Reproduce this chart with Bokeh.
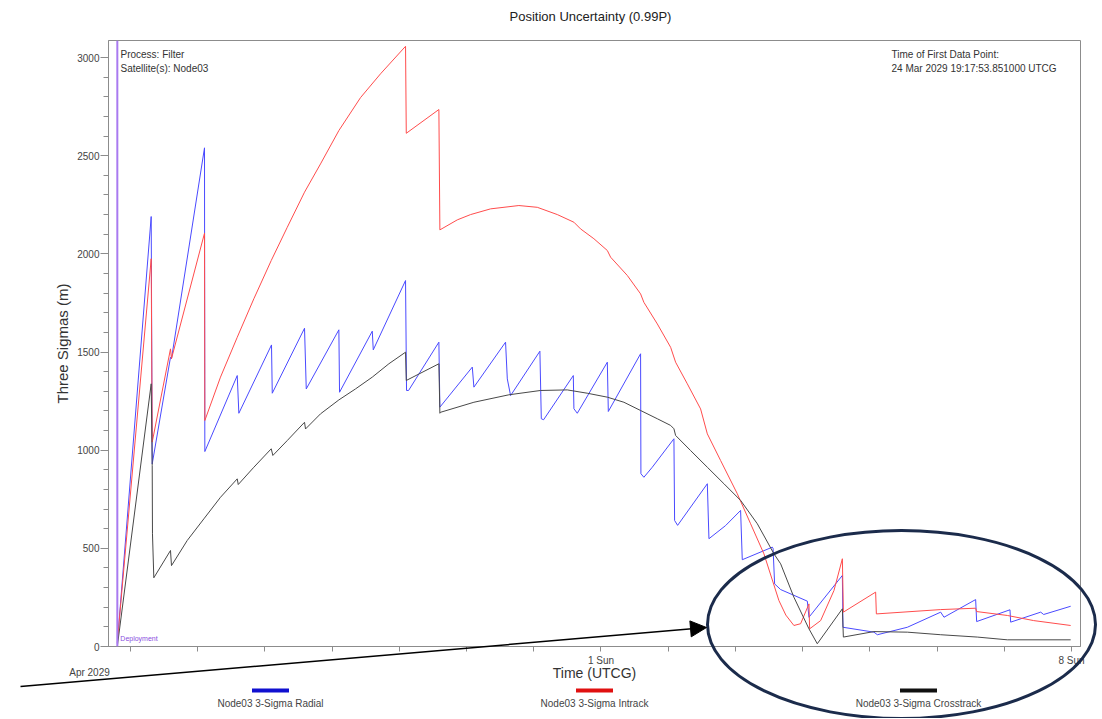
import numpy as np
from bokeh.plotting import figure
from bokeh.models import (Range1d, FixedTicker, SingleIntervalTicker, Label, Span,
                          Arrow, NormalHead, GridBox, Column)
from bokeh.core.properties import value
from bokeh.embed import file_html
from bokeh.resources import INLINE

FONT = "Liberation Sans"

# ---------------- data (time in days since 25 Mar 2029 00:00 UTCG) ----------------
radial_t = [-0.196, 0.308, 0.323, 0.595, 0.610, 1.101, 1.106, 1.588, 1.612, 2.098, 2.109,
            2.589, 2.615, 3.100, 3.110, 3.597, 3.612, 4.092, 4.107, 4.137, 4.588, 4.603,
            5.085, 5.109, 5.580, 5.606, 5.655, 6.091, 6.112, 6.146, 6.588, 6.597, 6.647,
            7.094, 7.109, 7.589, 7.594, 7.638, 7.763, 8.085, 8.095, 8.140, 8.582, 8.606,
            8.854, 9.077, 9.102, 9.549, 9.560, 9.583, 9.673, 10.070, 10.094, 10.591, 10.600,
            11.061, 11.112, 11.558, 12.054, 12.103, 12.574, 12.589, 13.085, 13.095, 13.542,
            13.586, 13.988]
radial_v = [15, 2190, 930, 1473, 1466, 2540, 993, 1380, 1188, 1536, 1290,
            1621, 1312, 1613, 1295, 1606, 1511, 1864, 1304, 1304, 1550, 1219,
            1423, 1321, 1550, 1363, 1278, 1504, 1160, 1155, 1380, 1211, 1188,
            1448, 1197, 1491, 880, 862, 913, 1058, 642, 617, 829, 549,
            616, 693, 442, 506, 500, 319, 290, 231, 149, 362, 98,
            73, 60, 98, 175, 149, 239, 127, 187, 124, 175,
            163, 205]

intrack_t = [-0.196, 0.308, 0.323, 0.595, 0.610, 1.101, 1.106, 1.339, 1.588, 1.835, 2.094,
             2.332, 2.589, 2.827, 3.100, 3.423, 3.720, 4.092, 4.103, 4.588, 4.603, 4.862,
             5.060, 5.357, 5.778, 6.052, 6.350, 6.597, 6.696, 6.894, 7.094, 7.143, 7.391,
             7.589, 7.638, 7.838, 8.036, 8.110, 8.284, 8.482, 8.582, 8.780, 9.028, 9.226,
             9.424, 9.647, 9.750, 9.870, 9.970, 10.094, 10.104, 10.268, 10.466, 10.591,
             10.606, 11.086, 11.097, 12.054, 12.574, 12.589, 13.046, 13.437, 13.988]
intrack_v = [20, 1975, 1041, 1516, 1466, 2105, 1151, 1372, 1575, 1771, 1966,
             2135, 2314, 2458, 2628, 2796, 2917, 3057, 2614, 2735, 2122, 2173,
             2200, 2229, 2246, 2237, 2200, 2161, 2127, 2077, 2017, 1983, 1890,
             1796, 1753, 1643, 1524, 1448, 1338, 1210, 1083, 947, 778, 625,
             472, 234, 160, 107, 116, 217, 90, 132, 285, 447,
             175, 277, 166, 188, 195, 178, 158, 132, 107]

cross_t = [-0.196, 0.308, 0.323, 0.327, 0.347, 0.595, 0.610, 0.844, 1.091, 1.339, 1.588,
           1.603, 1.835, 2.094, 2.118, 2.332, 2.589, 2.604, 2.827, 3.100, 3.348, 3.597,
           3.844, 4.092, 4.103, 4.588, 4.603, 4.613, 5.109, 5.629, 6.101, 6.498, 6.796,
           7.094, 7.341, 7.589, 7.838, 8.036, 8.085, 8.110, 8.333, 8.582, 8.829, 9.077,
           9.326, 9.573, 9.673, 9.870, 10.094, 10.218, 10.591, 10.606, 11.061, 11.558,
           12.054, 12.599, 13.046, 13.988]
cross_v = [0, 1338, 922, 574, 350, 489, 412, 540, 650, 760, 854,
           825, 913, 1007, 973, 1049, 1142, 1108, 1185, 1256, 1312, 1372,
           1440, 1499, 1355, 1440, 1188, 1193, 1244, 1282, 1304, 1307, 1290,
           1270, 1244, 1202, 1160, 1126, 1109, 1075, 998, 913, 829, 744,
           625, 472, 421, 251, 90, 14, 192, 48, 76, 73,
           60, 48, 34, 34]

deployment_t = -0.196
tick_days = list(range(15))
tick_names = {7: "1 Sun", 14: "8 Sun"}
series_names = ["Node03 3-Sigma Radial", "Node03 3-Sigma Intrack", "Node03 3-Sigma Crosstrack"]
line_colors = ["#4a4aff", "#ff4c4c", "#484848"]
swatch_colors = ["#1010d0", "#e01010", "#101010"]

# ---------------- layout (page pixels) ----------------
W, H = 1100, 718
FL, FR, FT, FB = 108, 1080, 40, 646
X0, X1 = -0.3273, 14.134
Y0, Y1 = 0.0, 3086.6

p = figure(width=W, height=H, x_range=Range1d(X0, X1), y_range=Range1d(Y0, Y1),
           output_backend="svg", toolbar_location=None,
           min_border_left=FL, min_border_right=W - FR,
           min_border_top=FT, min_border_bottom=H - FB)
p.outline_line_color = "#8c8c8c"
p.outline_line_width = 1
p.grid.visible = False

p.line(radial_t, radial_v, line_color=line_colors[0], line_width=1)
p.line(intrack_t, intrack_v, line_color=line_colors[1], line_width=1)
p.line(cross_t, cross_v, line_color=line_colors[2], line_width=1)

xa = p.xaxis[0]
xa.ticker = FixedTicker(ticks=tick_days, minor_ticks=[])
ov = {d: "" for d in tick_days}
ov.update(tick_names)
xa.major_label_overrides = ov
xa.axis_label = "Time (UTCG)"
xa.axis_label_text_font = FONT
xa.axis_label_text_font_size = "14px"
xa.axis_label_text_font_style = "normal"
xa.axis_label_text_color = "#333333"
xa.axis_label_standoff = -4
xa.major_label_text_font = FONT
xa.major_label_text_font_size = "10px"
xa.major_label_text_color = "#444444"
xa.major_label_standoff = 3
xa.major_tick_out = 5
xa.major_tick_in = 0
xa.axis_line_color = "#8c8c8c"
xa.major_tick_line_color = "#8c8c8c"

ya = p.yaxis[0]
ya.ticker = SingleIntervalTicker(interval=500, num_minor_ticks=5)
ya.axis_label = "Three Sigmas (m)"
ya.axis_label_text_font = FONT
ya.axis_label_text_font_size = "15px"
ya.axis_label_text_font_style = "normal"
ya.axis_label_text_color = "#333333"
ya.axis_label_standoff = 3
ya.major_label_text_font = FONT
ya.major_label_text_font_size = "10px"
ya.major_label_text_color = "#444444"
ya.major_label_standoff = 1
ya.major_tick_out = 8
ya.major_tick_in = 0
ya.minor_tick_out = 5
ya.minor_tick_in = 0
ya.axis_line_color = "#8c8c8c"
ya.major_tick_line_color = "#8c8c8c"
ya.minor_tick_line_color = "#8c8c8c"

# deployment marker
p.add_layout(Span(location=deployment_t, dimension="height", line_color="#a97af0", line_width=2))
p.add_layout(Label(x=deployment_t, y=40, x_offset=3, text="Deployment", text_font=FONT,
                   text_font_size="7px", text_color="#8a4fe0", text_baseline="middle"))

# info texts inside the frame
for txt, xo, yo in [("Process: Filter", 12, 14), ("Satellite(s): Node03", 12, 27.5)]:
    p.add_layout(Label(x=X0, y=Y1, x_offset=xo, y_offset=-yo, text=txt, text_font=FONT,
                       text_font_size="10px", text_color="#333333", text_baseline="middle"))
for txt, yo in [("Time of First Data Point:", 14), ("24 Mar 2029 19:17:53.851000 UTCG", 27.5)]:
    p.add_layout(Label(x=X0, y=Y1, x_offset=891 - FL, y_offset=-yo, text=txt, text_font=FONT,
                       text_font_size="10px", text_color="#333333", text_baseline="middle"))

# ---------------- overlay in page pixels (title, legend, callout) ----------------
o = figure(width=W, height=H, x_range=Range1d(0, W), y_range=Range1d(H, 0),
           output_backend="svg", toolbar_location=None, min_border=0,
           x_axis_type=None, y_axis_type=None)
o.outline_line_color = None
o.background_fill_alpha = 0
o.border_fill_alpha = 0
o.grid.visible = False

o.text(x=[590], y=[16], text=["Position Uncertainty (0.99P)"], text_font=value(FONT),
       text_font_size="13px", text_align="center", text_baseline="middle", text_color="#222222")
o.text(x=[89], y=[672], text=["Apr 2029"], text_font=value(FONT), text_font_size="10px",
       text_align="center", text_baseline="middle", text_color="#444444")

leg_x = [270, 594, 918]
o.segment(x0=[c - 18.5 for c in leg_x], y0=[690] * 3, x1=[c + 18.5 for c in leg_x], y1=[690] * 3,
          line_color=swatch_colors, line_width=4)
o.text(x=leg_x, y=[703] * 3, text=series_names, text_font=value(FONT), text_font_size="10px",
       text_align="center", text_baseline="middle", text_color="#444444")

o.add_layout(Arrow(x_start=20, y_start=686, x_end=706, y_end=627,
                   line_color="black", line_width=1.5,
                   end=NormalHead(size=16, fill_color="black", line_color="black")))
o.ellipse(x=[901], y=[624], width=[388], height=[188], fill_alpha=0,
          line_color="#1b2b4b", line_width=3)

layout = GridBox(children=[(p, 0, 0), (Column(children=[o]), 0, 0)])
open("out.html", "w").write(file_html(layout, INLINE))
